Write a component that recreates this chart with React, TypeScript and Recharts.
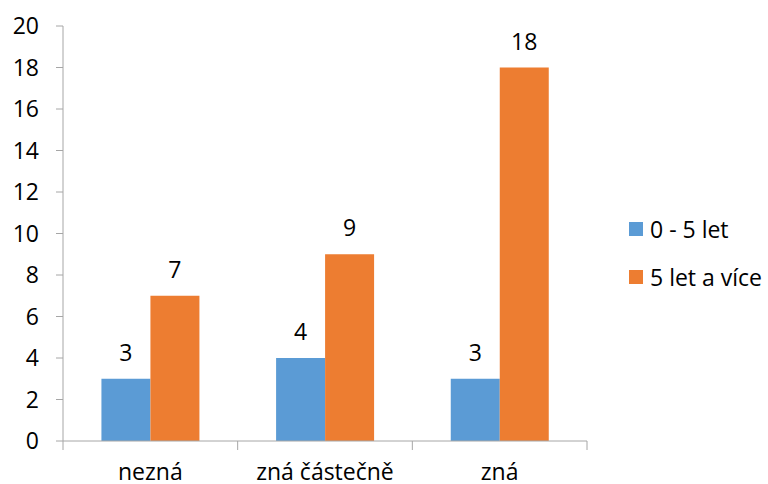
import { BarChart, Bar, XAxis, YAxis, LabelList } from "recharts";

const categories = ["nezná", "zná částečně", "zná"];
const young = [3, 4, 3]; // 0 - 5 let
const older = [7, 9, 18]; // 5 let a více
const yTicks = [0, 2, 4, 6, 8, 10, 12, 14, 16, 18, 20];

const SERIES = [
  { key: "young", name: "0 - 5 let", color: "#5B9BD5" },
  { key: "older", name: "5 let a více", color: "#ED7D31" },
];

const AXIS = "#A6A6A6";
const FONT = "'Open Sans', sans-serif";
const FS = 23;
const TICK_LEN = 9;

const data = categories.map((c, i) => ({ name: c, young: young[i], older: older[i] }));

// category label + tick marks on the band edges (Excel style)
function CatTick(props: any) {
  const { x, y, payload, index, visibleTicksCount } = props;
  const half = payload?.offset ?? 0;
  const top = y - TICK_LEN;
  return (
    <g>
      <line x1={x - half} x2={x - half} y1={top} y2={y} stroke={AXIS} />
      {index === visibleTicksCount - 1 && (
        <line x1={x + half} x2={x + half} y1={top} y2={y} stroke={AXIS} />
      )}
      <text x={x} y={y} dy={30} textAnchor="middle" fill="#000" fontSize={FS} fontFamily={FONT}>
        {payload.value}
      </text>
    </g>
  );
}

function SideLegend() {
  return (
    <div style={{ fontFamily: FONT, fontSize: FS, color: "#000" }}>
      {SERIES.map((s) => (
        <div key={s.key} style={{ display: "flex", alignItems: "center", height: 48 }}>
          <span style={{ width: 14, height: 14, background: s.color, marginRight: 7 }} />
          <span>{s.name}</span>
        </div>
      ))}
    </div>
  );
}

export default function App() {
  return (
    <div style={{ position: "absolute", left: 0, top: 0, width: 768, height: 484, background: "#fff" }}>
      <BarChart
        width={768}
        height={484}
        data={data}
        margin={{ top: 26, right: 181, bottom: 0, left: 0 }}
        barCategoryGap="22%"
        barGap={0}
      >
        <XAxis
          dataKey="name"
          height={43}
          stroke={AXIS}
          tickLine={false}
          tickSize={TICK_LEN}
          tickMargin={0}
          tick={<CatTick />}
          interval={0}
        />
        <YAxis
          width={63}
          domain={[0, 20]}
          ticks={yTicks}
          stroke={AXIS}
          tickSize={7}
          tickMargin={17}
          tick={{ fill: "#000", fontSize: FS, fontFamily: FONT }}
          interval={0}
        />
        {SERIES.map((s) => (
          <Bar key={s.key} dataKey={s.key} name={s.name} fill={s.color} isAnimationActive={false}>
            <LabelList
              dataKey={s.key}
              position="top"
              offset={18}
              fill="#000"
              fontSize={FS}
              fontFamily={FONT}
            />
          </Bar>
        ))}
      </BarChart>
      <div style={{ position: "absolute", left: 629, top: 205 }}>
        <SideLegend />
      </div>
    </div>
  );
}
